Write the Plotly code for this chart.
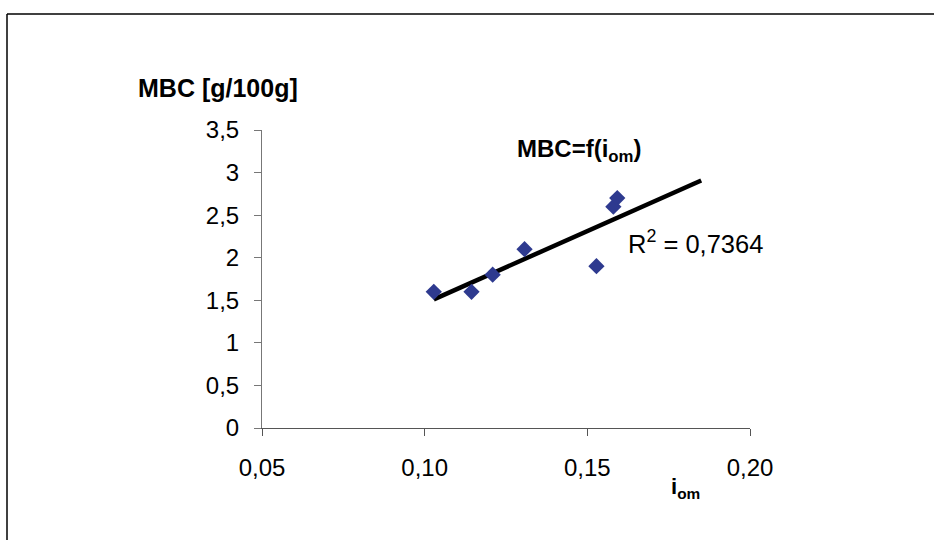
import numpy as np
import plotly.graph_objects as go

# Data
i_om = [0.1028, 0.1144, 0.1209, 0.1307, 0.1528, 0.1580, 0.1592]
mbc = [1.6, 1.6, 1.8, 2.1, 1.9, 2.6, 2.7]
trend_x_end = 0.185
r2_text = "R<sup>2</sup> = 0,7364"
x_ticks = [0.05, 0.10, 0.15, 0.20]
y_ticks = [0, 0.5, 1, 1.5, 2, 2.5, 3, 3.5]

# Linear trend (least squares) from the data
slope, intercept = np.polyfit(i_om, mbc, 1)
tx = np.array([min(i_om), trend_x_end])
ty = slope * tx + intercept

W, H = 934, 540
L, R, T, B = 262, 750, 130, 428  # plot area in pixels


def px(x):
    return (x - L) / (R - L)


def py(y):
    return (B - y) / (B - T)


fig = go.Figure()
fig.add_trace(go.Scatter(x=tx, y=ty, mode="lines",
                         line=dict(color="black", width=4.5),
                         hoverinfo="skip", showlegend=False))
fig.add_trace(go.Scatter(x=i_om, y=mbc, mode="markers",
                         marker=dict(symbol="diamond", size=12.5, color="#2E3A8F",
                                     line=dict(width=0)),
                         showlegend=False))

font = "Liberation Sans, Arial, sans-serif"
fig.update_layout(
    width=W, height=H,
    margin=dict(l=L, r=W - R, t=T, b=H - B),
    paper_bgcolor="white", plot_bgcolor="white",
    separators=", ",
    font=dict(family=font, size=24, color="black"),
    showlegend=False,
    xaxis=dict(range=[0.05, 0.20], tickvals=x_ticks, tickformat=".2f",
               showgrid=False, zeroline=False, showline=True,
               linecolor="#555", linewidth=1, ticks="outside", ticklen=7,
               tickcolor="#555", ticklabelstandoff=11,
               tickfont=dict(size=24)),
    yaxis=dict(range=[0, 3.5], tickvals=y_ticks, tickformat=".1~f",
               showgrid=False, zeroline=False, showline=True,
               linecolor="#777", linewidth=1, ticks="outside", ticklen=7,
               tickcolor="#777", ticklabelstandoff=10,
               tickfont=dict(size=24)),
    annotations=[
        dict(text="<b>MBC [g/100g]</b>", x=px(136), y=py(88), xref="paper", yref="paper",
             xanchor="left", yanchor="middle", showarrow=False, font=dict(size=25)),
        dict(text="<b>MBC=f(i<sub>om</sub>)</b>", x=px(515), y=py(150), xref="paper", yref="paper",
             xanchor="left", yanchor="middle", showarrow=False, font=dict(size=24)),
        dict(text=r2_text, x=px(626), y=py(242), xref="paper", yref="paper",
             xanchor="left", yanchor="middle", showarrow=False, font=dict(size=25.5)),
        dict(text="<b>i<sub>om</sub></b>", x=px(669), y=py(488), xref="paper", yref="paper",
             xanchor="left", yanchor="middle", showarrow=False, font=dict(size=22)),
    ],
    shapes=[
        dict(type="line", xref="paper", yref="paper", x0=px(7), x1=px(940), y0=py(14), y1=py(14),
             line=dict(color="black", width=1.5)),
        dict(type="line", xref="paper", yref="paper", x0=px(7), x1=px(7), y0=py(14), y1=py(545),
             line=dict(color="black", width=1.5)),
    ],
)

fig.write_html("out.html")
